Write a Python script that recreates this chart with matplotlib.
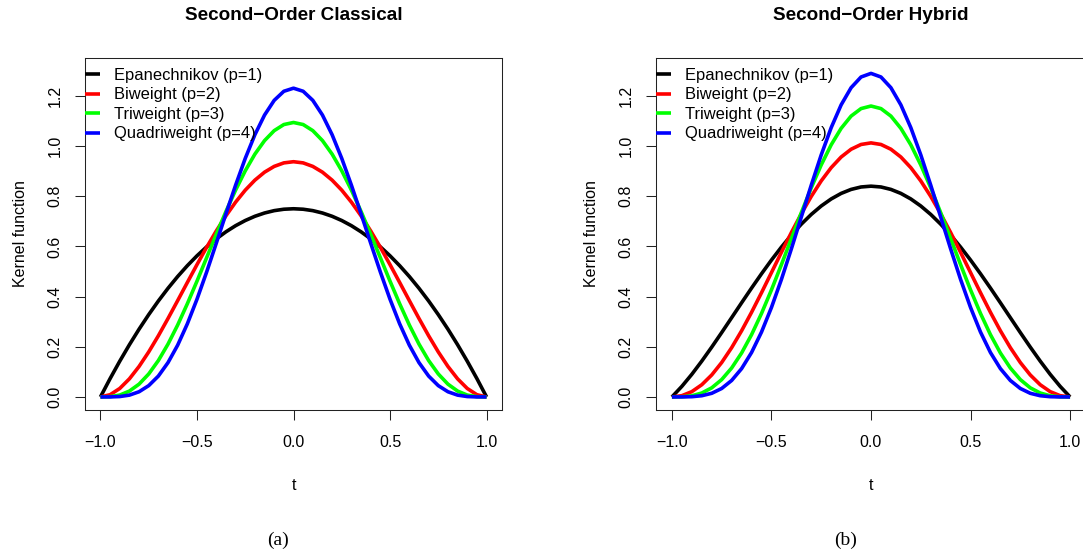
import numpy as np
import matplotlib
matplotlib.use("Agg")
import matplotlib.pyplot as plt

# ---- data (t >= 0 half, curves are symmetric) ----
t_half = [0.00, 0.05, 0.10, 0.15, 0.20, 0.25, 0.30, 0.35, 0.40, 0.45, 0.50,
          0.55, 0.60, 0.65, 0.70, 0.75, 0.80, 0.85, 0.90, 0.95, 1.00]

classical_epa = [0.7500, 0.7481, 0.7425, 0.7331, 0.7200, 0.7031, 0.6825, 0.6581, 0.6300, 0.5981, 0.5625,
                 0.5231, 0.4800, 0.4331, 0.3825, 0.3281, 0.2700, 0.2081, 0.1425, 0.0731, 0.0000]
classical_bi = [0.9375, 0.9328, 0.9188, 0.8958, 0.8640, 0.8240, 0.7763, 0.7219, 0.6615, 0.5963, 0.5273,
                0.4561, 0.3840, 0.3127, 0.2438, 0.1794, 0.1215, 0.0722, 0.0338, 0.0089, 0.0000]
classical_tri = [1.0938, 1.0856, 1.0613, 1.0216, 0.9677, 0.9012, 0.8242, 0.7390, 0.6483, 0.5548, 0.4614,
                 0.3712, 0.2867, 0.2107, 0.1451, 0.0916, 0.0510, 0.0234, 0.0075, 0.0010, 0.0000]
classical_quad = [1.2305, 1.2182, 1.1820, 1.1234, 1.0451, 0.9505, 0.8438, 0.7296, 0.6126, 0.4977, 0.3893,
                  0.2912, 0.2064, 0.1369, 0.0832, 0.0451, 0.0207, 0.0073, 0.0016, 0.0001, 0.0000]

hybrid_epa = [0.8400, 0.8368, 0.8271, 0.8112, 0.7891, 0.7611, 0.7275, 0.6887, 0.6451, 0.5972, 0.5456,
              0.4909, 0.4339, 0.3753, 0.3159, 0.2567, 0.1987, 0.1429, 0.0903, 0.0423, 0.0000]
hybrid_bi = [1.0125, 1.0062, 0.9872, 0.9562, 0.9138, 0.8611, 0.7993, 0.7301, 0.6552, 0.5764, 0.4957,
             0.4154, 0.3373, 0.2637, 0.1964, 0.1373, 0.0877, 0.0487, 0.0212, 0.0051, 0.0000]
hybrid_tri = [1.1594, 1.1492, 1.1193, 1.0704, 1.0048, 0.9248, 0.8336, 0.7345, 0.6312, 0.5274, 0.4268,
              0.3328, 0.2482, 0.1752, 0.1154, 0.0692, 0.0364, 0.0157, 0.0047, 0.0006, 0.0000]
hybrid_quad = [1.2895, 1.2751, 1.2324, 1.1640, 1.0732, 0.9648, 0.8442, 0.7174, 0.5903, 0.4684, 0.3567,
               0.2587, 0.1771, 0.1129, 0.0657, 0.0338, 0.0146, 0.0049, 0.0010, 0.0001, 0.0000]

labels = ["Epanechnikov (p=1)", "Biweight (p=2)", "Triweight (p=3)", "Quadriweight (p=4)"]
colors = ["#000000", "#FF0000", "#00FF00", "#0000FF"]
titles = ["Second\u2212Order Classical", "Second\u2212Order Hybrid"]
subcaps = ["(a)", "(b)"]
xticks = [-1.0, -0.5, 0.0, 0.5, 1.0]
yticks = [0.0, 0.2, 0.4, 0.6, 0.8, 1.0, 1.2]


def full(half):
    h = np.asarray(half, dtype=float)
    return np.concatenate([h[::-1][:-1], h])


t_full = np.concatenate([-np.asarray(t_half)[::-1][:-1], np.asarray(t_half)])

plt.rcParams["font.family"] = ["Liberation Sans", "DejaVu Sans"]

W, H = 1083, 553
fig = plt.figure(figsize=(W / 100, H / 100), dpi=100)

panels = [
    (85, 502, [classical_epa, classical_bi, classical_tri, classical_quad]),
    (656, 1086, [hybrid_epa, hybrid_bi, hybrid_tri, hybrid_quad]),
]
top_px, bot_px = 57.7, 410.0
sub_x = [277.7, 846.0]

FS = 11.5
for i, (lpx, rpx, series) in enumerate(panels):
    ax = fig.add_axes([lpx / W, (H - bot_px) / H, (rpx - lpx) / W, (bot_px - top_px) / H])
    for vals, c, lab in zip(series, colors, labels):
        ax.plot(t_full, full(vals), color=c, lw=2.6, label=lab,
                solid_capstyle="butt", solid_joinstyle="round")
    ax.set_xlim(-1.08, 1.08)
    ax.set_ylim(-0.052, 1.352)
    ax.set_xticks(xticks)
    ax.set_xticklabels([f"{v:.1f}".replace("-", "\u2212") for v in xticks])
    ax.set_yticks(yticks)
    ax.set_yticklabels([f"{v:.1f}" for v in yticks], rotation=90, va="center")
    ax.tick_params(axis="x", pad=11)
    ax.tick_params(axis="y", pad=9)
    ax.tick_params(direction="out", length=7.2, width=0.75, labelsize=FS, colors="#222222",
                   labelcolor="black")
    for s in ax.spines.values():
        s.set_linewidth(0.75)
        s.set_color("#222222")
    ax.set_xlabel("t", fontsize=FS, labelpad=20)
    ax.set_ylabel("Kernel function", fontsize=FS, labelpad=14)
    ax.legend(loc="upper left", bbox_to_anchor=(0.0, 0.971), frameon=False, fontsize=11.9,
              handlelength=0.9, handletextpad=0.85, labelspacing=0.27, borderpad=0.0,
              borderaxespad=0.0)
    cx = (lpx + rpx) / 2
    fig.text(cx / W, 1 - 16 / H, titles[i], ha="center", va="center", fontsize=13.6, fontweight="bold")
    fig.text(sub_x[i] / W, 1 - 540 / H, subcaps[i], ha="center", va="center", fontsize=14,
             family=["Liberation Serif", "DejaVu Serif"])

fig.savefig("out.png", dpi=100)
